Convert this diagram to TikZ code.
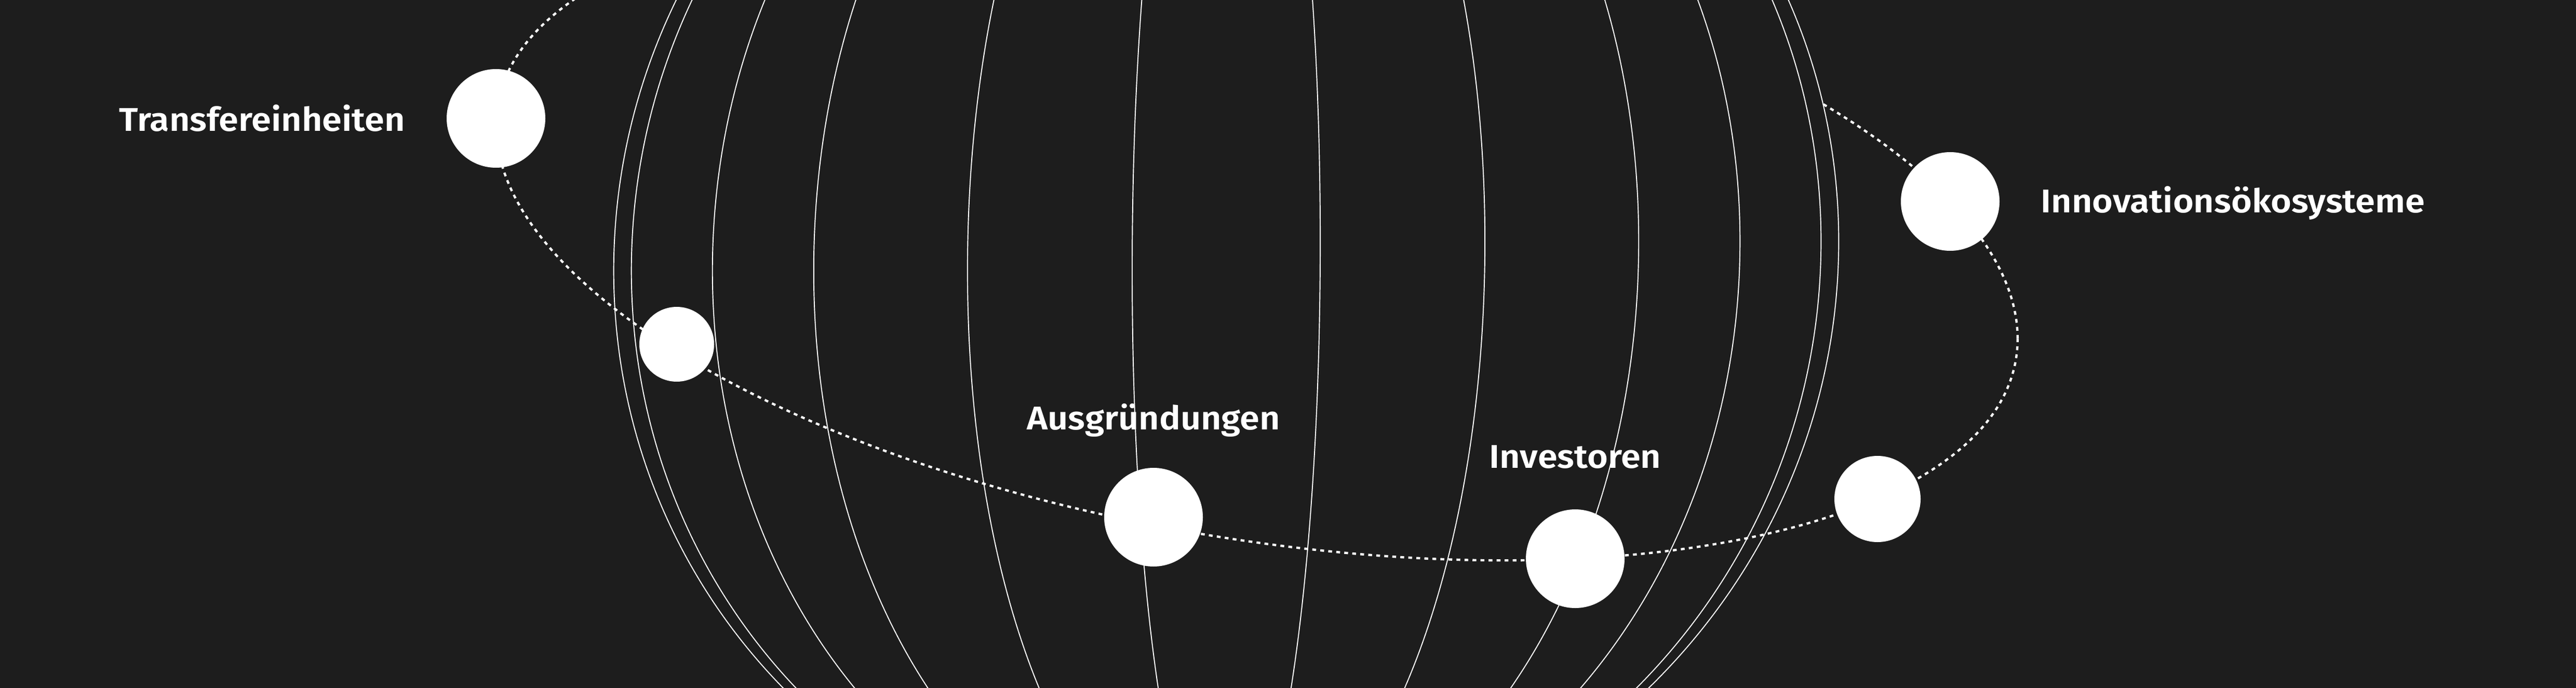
\documentclass[tikz,border=0pt]{standalone}
\usepackage{fontspec}
\setmainfont{Fira Sans}
\newfontfamily\labelfont{Fira Sans SemiBold}[FakeStretch=1.08]
\usetikzlibrary{positioning}
\definecolor{night}{HTML}{1D1D1D}

\begin{document}
\begin{tikzpicture}[node distance = 8mm,
  planet/.style = {circle, fill=white, inner sep=0pt, minimum size=19mm},
  orbitlabel/.style = {text=white, inner sep=0pt,
    font=\labelfont\fontsize{18}{21}\selectfont},
  orbit/.style = {white, line width=1.25pt, dash pattern=on 2.1pt off 2.3pt},
  meridian/.style = {white, line width=0.55pt}
  ]
  \useasboundingbox (0,0) rectangle (49.6,13.24);
  \fill[night] (-0.2,-0.2) rectangle (49.8,13.44);
  \clip (0,0) rectangle (49.6,13.24);

  % back half of the orbit
  \begin{scope}[shift={(24.20,8.77)}, rotate=-9.5]
    \draw[orbit] (3.8:14.82 and 5.91)
      arc[start angle=3.8, end angle=183.8, x radius=14.82, y radius=5.91];
  \end{scope}

  % globe
  \begin{scope}[shift={(23.61,8.31)}]
    \fill[night, xslant=0.0238] (0,0) ellipse [x radius=11.79, y radius=11.76];
    \foreach \rx [evaluate=\rx as \tilt using 0.0238*\rx/11.79]
        in {11.79,11.45,9.89,7.94,4.98,1.81}
      \draw[meridian, xslant=\tilt] (0,0) ellipse [x radius=\rx, y radius=11.76];
  \end{scope}

  % front half of the orbit
  \begin{scope}[shift={(24.20,8.77)}, rotate=-9.5]
    \draw[orbit] (183.8:14.82 and 5.91)
      arc[start angle=183.8, end angle=363.8, x radius=14.82, y radius=5.91];
  \end{scope}

  \node (transfer) [planet] at (9.55,10.96) {};
  \node (satwest) [planet, minimum size=14.4mm] at (13.03,6.61) {};
  \node (spinoff) [planet] at (22.21,3.28) {};
  \node (investors) [planet] at (30.33,2.48) {};
  \node (sateast) [planet, minimum size=16.6mm] at (36.15,3.63) {};
  \node (ecosystem) [planet] at (37.55,9.36) {};

  \node (transferlabel) [orbitlabel, left=7.9mm of transfer] {Transfereinheiten};
  \node (ecosystemlabel) [orbitlabel, right=7.8mm of ecosystem, yshift=-0.3mm] {Innovationsökosysteme};
  \node (spinofflabel) [orbitlabel, above=5.8mm of spinoff] {Ausgründungen};
  \node (investorslabel) [orbitlabel, above=7.7mm of investors] {Investoren};
\end{tikzpicture}
\end{document}
